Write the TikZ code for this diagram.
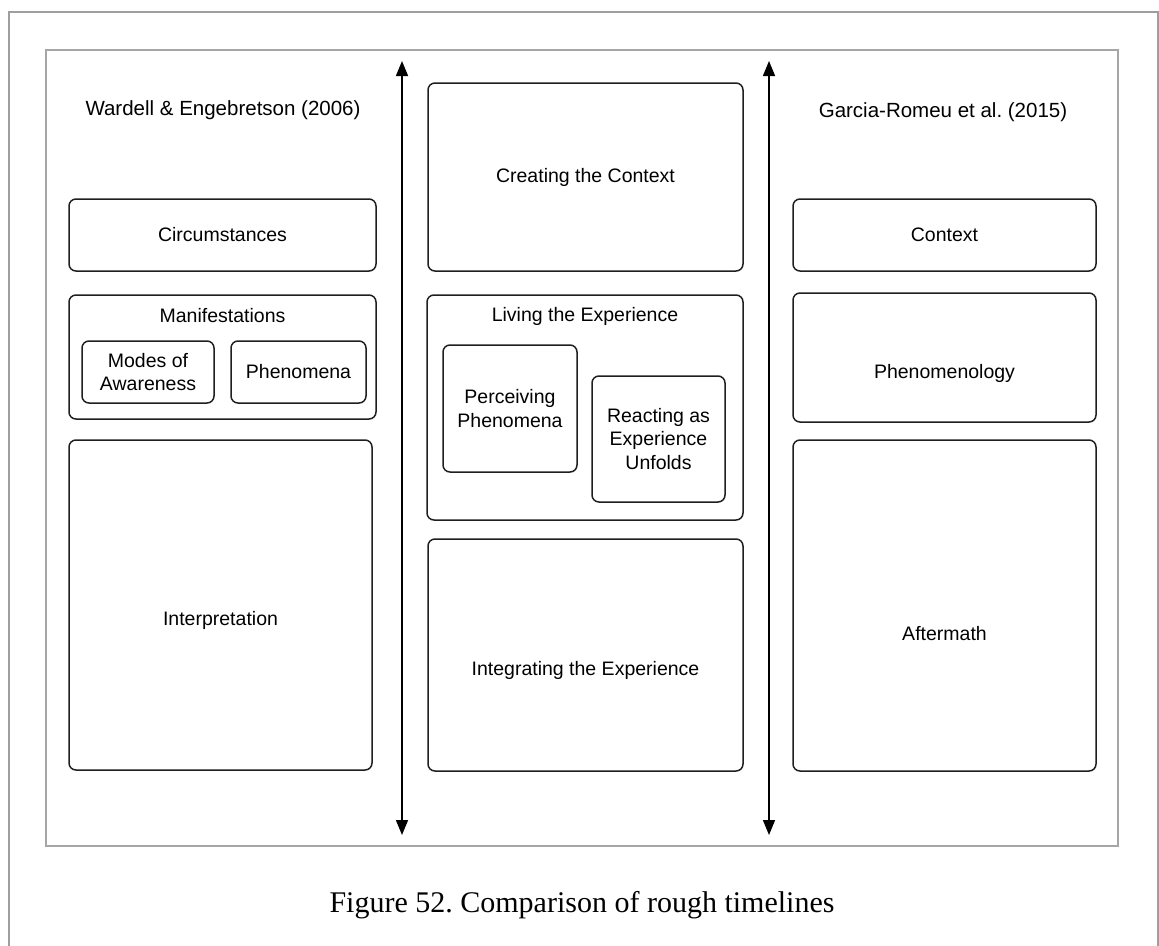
\documentclass[tikz,border=0pt]{standalone}
\usepackage{fontspec}
\setmainfont{Liberation Sans}
\newfontfamily\capfont{Liberation Serif}
\usetikzlibrary{arrows.meta}
\begin{document}
\frenchspacing
\begin{tikzpicture}[x=1pt,y=-1pt,
  box/.style={draw=black!88, line width=1.5pt, rounded corners=7pt, inner sep=0pt, align=center, font=\fontsize{19.5}{23.5}\selectfont},
  txt/.style={inner sep=0pt, align=center, font=\fontsize{19.5}{23.5}\selectfont},
  ttl/.style={inner sep=0pt, font=\fontsize{20.5}{24}\selectfont},
  outerframe/.style={draw=black!38, line width=2pt},
  innerframe/.style={draw=black!35, line width=1.5pt},
  axis/.style={line width=1.5pt, {Triangle[length=15pt,width=12pt]}-{Triangle[length=15pt,width=12pt]}}]
\useasboundingbox (0,0) rectangle (1159,945);
\clip (0,0) rectangle (1159,945);
\draw[outerframe] (9,960) -- (9,12) -- (1158,12) -- (1158,960);
\draw[innerframe] (46,50) rectangle (1118,846);

% titles
\node[ttl] (wtitle) at (223,110) {Wardell \& Engebretson (2006)};
\node[ttl] (gtitle) at (943,112) {Garcia-Romeu et al. (2015)};

% left column
\node[box, minimum width=307pt, minimum height=72pt] (circ) at (222.5,235) {Circumstances};
\node[box, minimum width=307pt, minimum height=124pt] (manif) at (222.5,357) {};
\node[txt] (maniflbl) at (222.5,316) {Manifestations};
\node[box, minimum width=132pt, minimum height=62pt] (modes) at (148,372) {Modes of\\Awareness};
\node[box, minimum width=135pt, minimum height=62pt] (phen) at (298.5,372) {Phenomena};
\node[box, minimum width=303pt, minimum height=330pt] (interp) at (220.5,605) {};
\node[txt] (interplbl) at (220.5,620) {Interpretation};

% middle column
\node[box, minimum width=315pt, minimum height=188pt] (create) at (585.5,177) {Creating the Context};
\node[box, minimum width=316pt, minimum height=225pt] (living) at (585,407.5) {};
\node[txt] (livinglbl) at (585,316) {Living the Experience};
\node[box, minimum width=134pt, minimum height=127pt] (perc) at (510,408.5) {Perceiving\\Phenomena};
\node[box, minimum width=133pt, minimum height=126pt] (react) at (658.5,439) {Reacting as\\Experience\\Unfolds};
\node[box, minimum width=315pt, minimum height=232pt] (integ) at (585.5,655) {};
\node[txt] (integlbl) at (585.5,670) {Integrating the Experience};

% right column
\node[box, minimum width=303pt, minimum height=72pt] (ctx) at (944.5,235) {Context};
\node[box, minimum width=303pt, minimum height=129pt] (phenom) at (944.5,357.5) {};
\node[txt] (phenomlbl) at (944.5,373) {Phenomenology};
\node[box, minimum width=303pt, minimum height=331pt] (after) at (944.5,605.5) {};
\node[txt] (afterlbl) at (944.5,634) {Aftermath};

% timeline arrows
\coordinate (a1top) at (402,61);
\coordinate (a1bot) at (402,835);
\coordinate (a2top) at (769,61);
\coordinate (a2bot) at (769,835);
\draw[axis] (a1top) -- (a1bot);
\draw[axis] (a2top) -- (a2bot);

% caption
\node[inner sep=0pt, anchor=base, font=\capfont\fontsize{30}{34}\selectfont] (cap) at (582,912) {Figure 52. Comparison of rough timelines};
\end{tikzpicture}
\end{document}
